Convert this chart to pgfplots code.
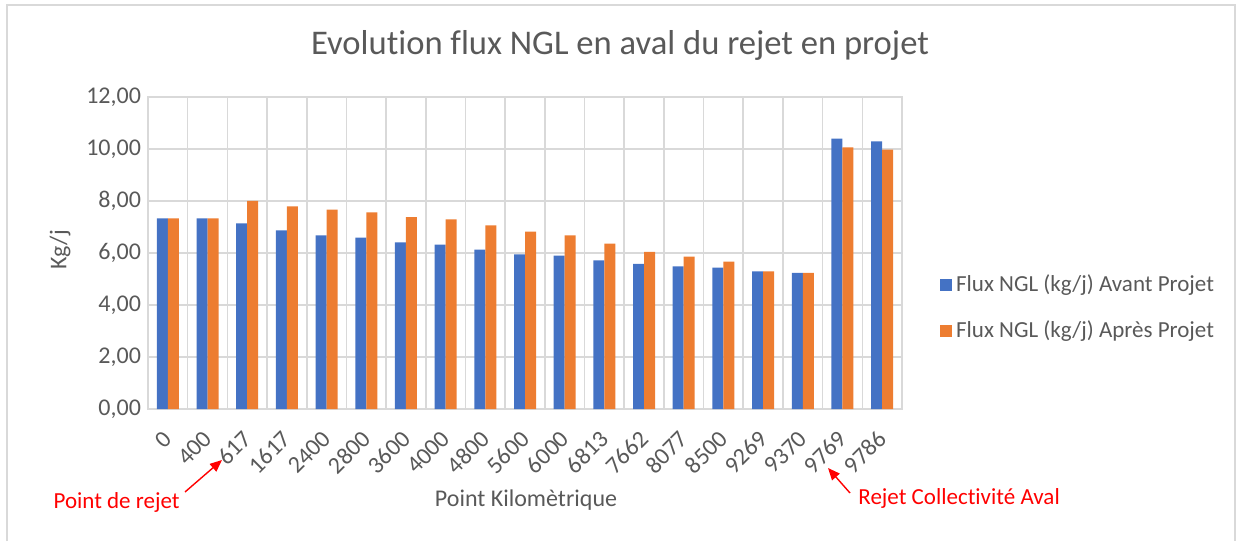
\documentclass[border=0pt]{standalone}
\usepackage{pgfplots}
\pgfplotsset{compat=1.18}
\usepackage{fontspec}
\setmainfont{Carlito}[Ligatures=NoCommon]
\usetikzlibrary{arrows.meta}
\definecolor{cblue}{RGB}{68,114,196}
\definecolor{corange}{RGB}{237,125,49}
\definecolor{ctext}{RGB}{89,89,89}
\definecolor{cgrid}{RGB}{217,217,217}
\definecolor{cred}{RGB}{255,0,0}
\pgfplotstableread{
x avant apres
0 7.33 7.33
1 7.33 7.33
2 7.14 8.00
3 6.87 7.79
4 6.68 7.67
5 6.59 7.56
6 6.41 7.38
7 6.32 7.29
8 6.13 7.06
9 5.95 6.82
10 5.90 6.68
11 5.72 6.36
12 5.58 6.04
13 5.49 5.86
14 5.44 5.67
15 5.29 5.29
16 5.24 5.24
17 10.40 10.06
18 10.29 9.98
}\datatable
\begin{document}
\begin{tikzpicture}
\useasboundingbox (0,0) rectangle (618pt,270.5pt);
\draw[cgrid, line width=0.8pt] (3.5pt,0pt) -- (3.5pt,268pt) -- (617.5pt,268pt) -- (617.5pt,0pt);
\begin{axis}[
  at={(74pt,66pt)}, anchor=south west, scale only axis,
  width=377pt, height=156pt,
  ymin=0, ymax=12, ytick={0,2,...,12},
  xmin=-0.5, xmax=18.5,
  xtick={0,...,18},
  xticklabels={0,400,617,1617,2400,2800,3600,4000,4800,5600,6000,6813,7662,8077,8500,9269,9370,9769,9786},
  minor xtick={-0.5,0.5,...,18.5},
  xminorgrids, ymajorgrids,
  grid style={cgrid, line width=0.8pt},
  minor grid style={cgrid, line width=0.8pt},
  axis line style={cgrid, line width=0.8pt},
  major tick length=0pt, minor tick length=0pt,
  tick style={draw=none},
  ybar=0pt, bar width=5.5pt,
  ticklabel style={color=ctext, font=\fontsize{12}{12}\selectfont},
  /pgf/number format/assume math mode=true,
  yticklabel style={/pgf/number format/.cd, fixed, fixed zerofill, precision=2, use comma},
  xticklabel style={xshift=2.5pt, yshift=-10.5pt, rotate=45, anchor=east},
  legend image code/.code={\fill[#1] (0pt,-3pt) rectangle (6pt,3pt);},
  legend style={at={(1.05,0.325)}, anchor=west, draw=none, fill=none,
    font=\fontsize{11.5}{11.5}\selectfont, text=ctext, row sep=9pt, inner sep=0pt,
    /tikz/every even column/.append style={column sep=3pt}},
  legend cell align=left,
]
\addplot[fill=cblue, draw=none] table[x=x, y=avant] {\datatable};
\addlegendentry{Flux NGL (kg/j) Avant Projet}
\addplot[fill=corange, draw=none] table[x=x, y=apres] {\datatable};
\addlegendentry{Flux NGL (kg/j) Après Projet}
\end{axis}
\node[text=ctext, font=\fontsize{17.3}{17.3}\selectfont] at (310pt,248pt) {Evolution flux NGL en aval du rejet en projet};
\node[text=ctext, font=\fontsize{12}{12}\selectfont] at (263pt,20.5pt) {Point Kilomètrique};
\node[text=ctext, font=\fontsize{12}{12}\selectfont, rotate=90] at (30pt,145.5pt) {Kg/j};
\node[text=cred, font=\fontsize{11.5}{11.5}\selectfont, anchor=east, inner sep=0pt] at (90pt,19.5pt) {Point de rejet};
\node[text=cred, font=\fontsize{11.5}{11.5}\selectfont, anchor=west, inner sep=0pt] at (429pt,21.5pt) {Rejet Collectivité Aval};
\draw[cred, line width=0.7pt, -{Triangle[length=6pt,width=5pt]}] (92.5pt,24.5pt) -- (111pt,40.5pt);
\draw[cred, line width=0.7pt, -{Triangle[length=6pt,width=5pt]}] (425pt,24pt) -- (414pt,36.5pt);
\end{tikzpicture}
\end{document}
